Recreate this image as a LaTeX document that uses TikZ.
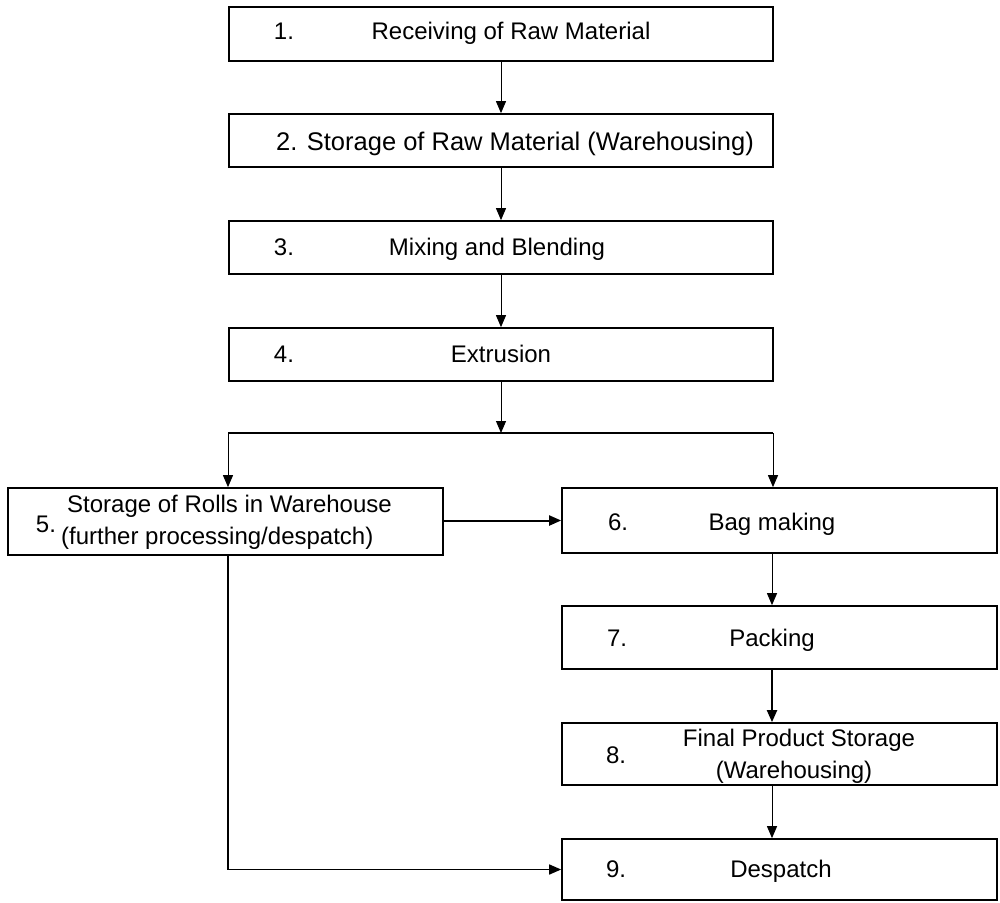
\documentclass[tikz,border=0pt]{standalone}
\usepackage{fontspec}
\setmainfont{Liberation Sans}
\usetikzlibrary{arrows.meta,calc}
\begin{document}
\begin{tikzpicture}[x=1pt,y=-1pt,
  box/.style={draw,line width=1.7pt,inner sep=0pt,rectangle},
  lbl/.style={anchor=base,inner sep=0pt,font=\fontsize{24}{28}\selectfont},
  biglbl/.style={anchor=base,inner sep=0pt,font=\fontsize{25.5}{30}\selectfont},
  leftlbl/.style={anchor=base west,inner sep=0pt,font=\fontsize{24}{28}\selectfont},
  conn/.style={line width=1pt,-{Triangle[length=12pt,width=10pt]}},
  thickconn/.style={line width=2pt,-{Triangle[length=12pt,width=10pt]}},
  joinline/.style={line width=1.6pt}
]
\useasboundingbox (0,0) rectangle (1000,902);
% boxes
\node[box,minimum width=544pt,minimum height=54pt] (b1) at (501,34) {};
\node[box,minimum width=544pt,minimum height=53pt] (b2) at (501,140.5) {};
\node[box,minimum width=544pt,minimum height=53pt] (b3) at (501,247.5) {};
\node[box,minimum width=544pt,minimum height=53pt] (b4) at (501,354.5) {};
\node[box,minimum width=435pt,minimum height=67pt] (b5) at (225.5,521.5) {};
\node[box,minimum width=435pt,minimum height=65pt] (b6) at (779.5,520.5) {};
\node[box,minimum width=435pt,minimum height=63pt] (b7) at (779.5,637.5) {};
\node[box,minimum width=435pt,minimum height=62pt] (b8) at (779.5,754) {};
\node[box,minimum width=435pt,minimum height=61pt] (b9) at (779.5,869.5) {};
% texts
\node[lbl] (n1) at (284,39.5) {1.};
\node[lbl] (t1) at (511,39.5) {Receiving of Raw Material};
\node[biglbl] (t2) at (515,150) {2. Storage of Raw Material (Warehousing)};
\node[lbl] (n3) at (284,255) {3.};
\node[lbl] (t3) at (497,255) {Mixing and Blending};
\node[lbl] (n4) at (284,362) {4.};
\node[lbl] (t4) at (501,362) {Extrusion};
\node[lbl] (n5) at (46,532) {5.};
\node[leftlbl] (t5a) at (67,512) {Storage of Rolls in Warehouse};
\node[leftlbl] (t5b) at (61,544) {(further processing/despatch)};
\node[lbl] (n6) at (618,530) {6.};
\node[lbl] (t6) at (772,530) {Bag making};
\node[lbl] (n7) at (617,646) {7.};
\node[lbl] (t7) at (772,646) {Packing};
\node[lbl] (n8) at (616,763) {8.};
\node[lbl] (t8a) at (799,746) {Final Product Storage};
\node[lbl] (t8b) at (794,778) {(Warehousing)};
\node[lbl] (n9) at (616,877) {9.};
\node[lbl] (t9) at (781,877) {Despatch};
% junction coordinates
\coordinate (j) at (501,433);
\coordinate (jl) at (228,433);
\coordinate (jr) at (773,433);
\coordinate (ax) at (772,0);
% connectors
\draw[conn] (b1.south) -- (b2.north);
\draw[conn] (b2.south) -- (b3.north);
\draw[conn] (b3.south) -- (b4.north);
\draw[conn] (b4.south) -- (j);
\draw[joinline] (jl) -- (jr);
\draw[conn] (jl) -- (jl |- b5.north);
\draw[conn] (jr) -- (jr |- b6.north);
\draw[thickconn] (b5.east |- b6.west) -- (b6.west);
\draw[conn] (ax |- b6.south) -- (ax |- b7.north);
\draw[thickconn] (ax |- b7.south) -- (ax |- b8.north);
\draw[conn] (ax |- b8.south) -- (ax |- b9.north);
\draw[joinline,-{Triangle[length=12pt,width=10pt]}] (jl |- b5.south) -- (jl |- b9.west) -- (b9.west);
\end{tikzpicture}
\end{document}
